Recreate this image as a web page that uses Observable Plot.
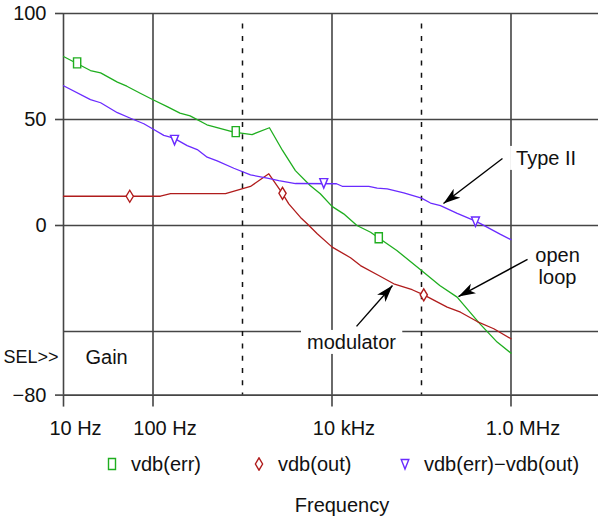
<!DOCTYPE html>
<html>
<head>
<meta charset="utf-8">
<script src="https://cdn.jsdelivr.net/npm/d3@7"></script>
<script src="https://cdn.jsdelivr.net/npm/@observablehq/plot@0.6"></script>
<style>
  html, body { margin: 0; padding: 0; background: #fff; }
  #wrap { position: relative; width: 598px; height: 522px; font-family: "Liberation Sans", Arial, sans-serif; color: #111; }
  #wrap svg { display: block; }
  .leg { position: absolute; top: 452px; height: 24px; display: flex; align-items: center; font-size: 20px; white-space: nowrap; }
  .leg svg { margin-right: 14px; }
  #xlabel { position: absolute; top: 494px; left: 0; width: 684px; text-align: center; font-size: 20px; }
</style>
</head>
<body>
<div id="wrap"></div>
<script>
// ---- data ----
const errFreq = [10,20,26,40,51,72,100,144,200,260,400,800,1280,2000,2800,3900,5700,7400,10000,13500,19000,27000,33000,53000,100000,160000,250000,450000,700000,1000000];
const errDb   = [79.7,73.1,72.0,67.6,65.7,62.4,59.3,56.1,53.0,51.7,47.5,44.0,42.9,46.1,35.4,25.9,18.9,15.0,9.0,5.5,0,-3.2,-5.8,-11.8,-21.2,-28.3,-33.8,-46.4,-55.0,-60.2];

const outFreq = [10,121,157,646,1228,1968,2777,3290,4446,5284,6838,10050,16100,20800,33300,49000,78700,106000,193600,272900,419000,642600,1000000];
const outDb   = [13.8,13.8,15.0,15.0,18.4,24.4,15.3,10.2,3.8,0.8,-3.9,-10.2,-15.2,-18.9,-23.6,-27.5,-30.3,-32.7,-38.5,-40.9,-45.3,-48.7,-53.4];

const diffFreq = [10,20,26,40,56,79,102,132,171,241,312,403,521,800,1228,1888,2545,3911,11230,13000,25780,31990,41390,63400,100000,126100,163000,250600,384000,456200,763700,1000000];
const diffDb   = [65.9,59.4,57.9,53.2,50.6,48.0,45.3,42.5,41.2,37.7,35.8,32.2,30.5,27.0,23.9,22.3,21.2,19.8,19.7,18.5,18.5,17.6,17.3,15.4,12.9,10.6,9.4,5.7,2.4,0.9,-4.2,-6.7];

const errMarkFreq  = [14.2, 841, 33300];   const errMarkDb  = [76.7, 44.3, -5.8];
const outMarkFreq  = [55, 2800, 106000];   const outMarkDb  = [13.8, 15.2, -32.7];
const diffMarkFreq = [174, 8090, 401000];  const diffMarkDb = [40.4, 20.0, 1.9];

const seriesNames = ["vdb(err)", "vdb(out)", "vdb(err)\u2212vdb(out)"];

const xTicks = [10, 100, 10000, 1000000];
const xTickLabels = ["10 Hz", "100 Hz", "10 kHz", "1.0 MHz"];
const xDashed = [1000, 100000];
const yTicks = [100, 50, 0, -80];
const yTickLabels = ["100", "50", "0", "\u221280"];
const yGrid = [100, 50, 0, -50, -80];

const noteText = ["Type II", "open\nloop", "modulator"];
const noteFreq = [1.14e6, 3.31e6, 16500];
const noteDb   = [31.6, -19.3, -55.2];
const noteAnchor = ["start", "middle", "middle"];
const noteBoxed = [true, false, true];

const arrowFreq1 = [803000, 1.53e6, 18790];
const arrowDb1   = [31.6, -16.0, -47.6];
const arrowFreq2 = [176000, 259000, 47400];
const arrowDb2   = [10.4, -33.5, -28.3];

const regionLabel = "Gain";
const regionFreq = 17.6, regionDb = -62.3;
const selLabel = "SEL>>";
const axisTitle = "Frequency";

// ---- styling ----
const GREEN = "#1fae1f", RED = "#b01c1c", BLUE = "#6a2bff", GRID = "#454545";

// custom hollow symbols
const tallSquare = { draw(ctx) { ctx.moveTo(-3.6,-5); ctx.lineTo(3.6,-5); ctx.lineTo(3.6,5); ctx.lineTo(-3.6,5); ctx.closePath(); } };
const tallDiamond = { draw(ctx) { ctx.moveTo(0,-6); ctx.lineTo(3.6,0); ctx.lineTo(0,6); ctx.lineTo(-3.6,0); ctx.closePath(); } };
const downTriangle = { draw(ctx) { ctx.moveTo(-4,-4.5); ctx.lineTo(4,-4.5); ctx.lineTo(0,5); ctx.closePath(); } };

const toRows = (fs, ds) => fs.map((f, i) => ({f, db: ds[i]}));
const errRows = toRows(errFreq, errDb), outRows = toRows(outFreq, outDb), diffRows = toRows(diffFreq, diffDb);
const notes = noteText.map((t, i) => ({t, f: noteFreq[i], db: noteDb[i], anchor: noteAnchor[i], boxed: noteBoxed[i]}));
const arrows = arrowFreq1.map((f, i) => ({f1: f, d1: arrowDb1[i], f2: arrowFreq2[i], d2: arrowDb2[i]}));

const plot = Plot.plot({
  width: 598,
  height: 440,
  marginTop: 13,
  marginLeft: 63,
  marginRight: 0,
  marginBottom: 45.4,
  style: { fontFamily: "'Liberation Sans', Arial, sans-serif", fontSize: "20px", background: "#fff", color: "#111" },
  x: { type: "log", domain: [10, 9.5e6] },
  y: { domain: [-80, 100] },
  marks: [
    Plot.ruleY(yGrid, { stroke: GRID, strokeWidth: 1.6 }),
    Plot.ruleX(xTicks, { stroke: GRID, strokeWidth: 1.6 }),
    Plot.ruleX(xDashed, { y1: 95, y2: -80, stroke: "#111", strokeWidth: 1.5, strokeDasharray: "5,7.3" }),
    Plot.axisY(yTicks, { tickSize: 8, tickPadding: 9, stroke: GRID, strokeWidth: 1.6, fontSize: 20, label: null,
      tickFormat: d => yTickLabels[yTicks.indexOf(d)] }),
    Plot.axisX(xTicks, { tickSize: 12, stroke: GRID, strokeWidth: 1.6, label: null, tickFormat: () => "" }),
    Plot.axisX(xTicks, { tickSize: 0, tickPadding: 26, dx: 12, fontSize: 20, label: null,
      tickFormat: d => xTickLabels[xTicks.indexOf(d)] }),
    Plot.text(notes.filter(d => d.boxed), { x: "f", y: "db", text: "t", textAnchor: "start", fontSize: 20, fill: "#111",
      className: "boxed", dx: 0 }),
    Plot.text(notes.filter(d => !d.boxed), { x: "f", y: "db", text: "t", textAnchor: "middle", fontSize: 20, fill: "#111", lineHeight: 1.1 }),
    Plot.text([regionLabel], { x: regionFreq, y: regionDb, text: d => d, textAnchor: "start", fontSize: 20, fill: "#111" }),
    Plot.text([selLabel], { x: 10, y: regionDb, text: d => d, textAnchor: "end", dx: -5, fontSize: 18, fill: "#111" }),
    Plot.line(errRows, { x: "f", y: "db", stroke: GREEN, strokeWidth: 1.3 }),
    Plot.line(outRows, { x: "f", y: "db", stroke: RED, strokeWidth: 1.3 }),
    Plot.line(diffRows, { x: "f", y: "db", stroke: BLUE, strokeWidth: 1.3 }),
    Plot.dot(toRows(errMarkFreq, errMarkDb), { x: "f", y: "db", symbol: tallSquare, stroke: GREEN, fill: "#fff", strokeWidth: 1.4 }),
    Plot.dot(toRows(outMarkFreq, outMarkDb), { x: "f", y: "db", symbol: tallDiamond, stroke: RED, fill: "#fff", strokeWidth: 1.4 }),
    Plot.dot(toRows(diffMarkFreq, diffMarkDb), { x: "f", y: "db", symbol: downTriangle, stroke: BLUE, fill: "#fff", strokeWidth: 1.4 }),
    Plot.link(arrows, { x1: "f1", y1: "d1", x2: "f2", y2: "d2", stroke: "#000", strokeWidth: 1.4, className: "annarrow" })
  ]
});

const wrap = document.getElementById("wrap");
wrap.appendChild(plot);

// make "boxed" texts (start-anchored positions were given for the left edge of Type II; modulator is centred)
const ns = "http://www.w3.org/2000/svg";
plot.querySelectorAll("g.boxed text").forEach(t => {
  if (t.textContent === "modulator") t.setAttribute("text-anchor", "middle");
  const b = t.getBBox();
  const r = document.createElementNS(ns, "rect");
  r.setAttribute("x", b.x - 6); r.setAttribute("y", b.y - 1);
  r.setAttribute("width", b.width + 12); r.setAttribute("height", b.height + 2);
  r.setAttribute("fill", "#fff");
  const tr = t.getAttribute("transform");
  if (tr) r.setAttribute("transform", tr);
  t.parentNode.insertBefore(r, t);
});

// filled arrowheads
const defs = document.createElementNS(ns, "defs");
defs.innerHTML = '<marker id="ahead" viewBox="-17 -6 18 12" refX="0" refY="0" markerWidth="18" markerHeight="12" markerUnits="userSpaceOnUse" orient="auto"><path d="M0,0L-17,-5.5L-12.5,0L-17,5.5Z" fill="#000"/></marker>';
plot.insertBefore(defs, plot.firstChild);
plot.querySelectorAll("g.annarrow path").forEach(p => p.setAttribute("marker-end", "url(#ahead)"));

// legend
const legendSymbols = [
  { color: GREEN, path: "M1.5,1.5H8.5V12.5H1.5Z", left: 107 },
  { color: RED, path: "M5,0.8L8.6,7L5,13.2L1.4,7Z", left: 254 },
  { color: BLUE, path: "M1.2,2.5H8.8L5,12Z", left: 400 }
];
seriesNames.forEach((name, i) => {
  const s = legendSymbols[i];
  const item = document.createElement("div");
  item.className = "leg";
  item.style.left = s.left + "px";
  item.innerHTML = `<svg width="10" height="14" viewBox="0 0 10 14"><path d="${s.path}" fill="none" stroke="${s.color}" stroke-width="1.4"/></svg><span>${name}</span>`;
  wrap.appendChild(item);
});
const xl = document.createElement("div");
xl.id = "xlabel";
xl.textContent = axisTitle;
wrap.appendChild(xl);
</script>
</body>
</html>
